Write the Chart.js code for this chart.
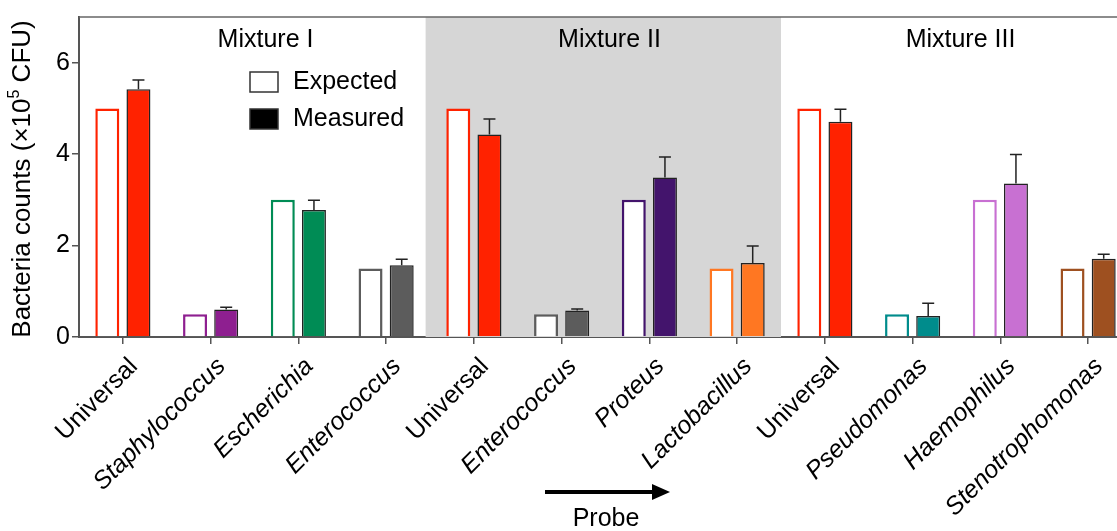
<!DOCTYPE html>
<html>
<head>
<meta charset="utf-8">
<script src="https://cdn.jsdelivr.net/npm/chart.js@4.4.0/dist/chart.umd.min.js"></script>
<style>
  html, body { margin: 0; padding: 0; background: #fff; overflow: hidden; }
  #wrap { width: 1117px; height: 531px; overflow: hidden; }
</style>
</head>
<body>
<div id="wrap"><canvas id="myChart" width="1136" height="531"></canvas></div>
<script>
// data
var probes = ["Universal", "Staphylococcus", "Escherichia", "Enterococcus",
              "Universal", "Enterococcus", "Proteus", "Lactobacillus",
              "Universal", "Pseudomonas", "Haemophilus", "Stenotrophomonas"];
var expected = [5, 0.5, 3, 1.5, 5, 0.5, 3, 1.5, 5, 0.5, 3, 1.5];
var measured = [5.42, 0.6, 2.78, 1.57, 4.43, 0.58, 3.49, 1.62, 4.71, 0.46, 3.36, 1.71];
var measuredErr = [0.2, 0.05, 0.21, 0.13, 0.34, 0.03, 0.45, 0.37, 0.27, 0.28, 0.63, 0.1];
var probeColors = ["#ff2200", "#8e1f90", "#008c55", "#5c5c5c",
                   "#ff2200", "#5c5c5c", "#43146c", "#ff7722",
                   "#ff2200", "#008c8c", "#c870d2", "#9e5020"];
var mixtures = ["Mixture I", "Mixture II", "Mixture III"];
var yTicks = [0, 2, 4, 6];

var FONT = "'Liberation Sans', Arial, sans-serif";

// grey band behind Mixture II, group titles, top border
var backPlugin = {
  id: "back",
  beforeDatasetsDraw: function(chart) {
    var c = chart.ctx, a = chart.chartArea, x = chart.scales.x;
    c.save();
    c.fillStyle = "#d6d6d6";
    var x0 = x.getPixelForValue(3.45), x1 = x.getPixelForValue(7.5);
    c.fillRect(x0, a.top, x1 - x0, a.bottom - a.top);
    c.fillStyle = "#000";
    c.font = "25px " + FONT;
    c.textAlign = "center";
    c.textBaseline = "middle";
    for (var i = 0; i < mixtures.length; i++) {
      var cx = x.getPixelForValue(i * 4 + 1.5);
      c.fillText(mixtures[i], cx + (i == 0 ? 11 : 4), a.top + 23);
    }
    c.strokeStyle = "#666";
    c.lineWidth = 1.5;
    c.beginPath();
    c.moveTo(a.left, a.top);
    c.lineTo(a.right, a.top);
    c.stroke();
    c.restore();
  }
};

// error bars, legend, y title, probe arrow
var frontPlugin = {
  id: "front",
  afterDatasetsDraw: function(chart) {
    var c = chart.ctx, a = chart.chartArea, y = chart.scales.y;
    var meta = chart.getDatasetMeta(1);
    c.save();
    c.strokeStyle = "#222";
    c.lineWidth = 1.5;
    for (var i = 0; i < measured.length; i++) {
      var bar = meta.data[i];
      var yTop = y.getPixelForValue(measured[i] + measuredErr[i]);
      c.beginPath();
      c.moveTo(bar.x, bar.y);
      c.lineTo(bar.x, yTop);
      c.moveTo(bar.x - 6, yTop);
      c.lineTo(bar.x + 6, yTop);
      c.stroke();
    }
    // legend
    c.lineWidth = 1.5;
    c.strokeStyle = "#333";
    c.fillStyle = "#fff";
    c.fillRect(250, 72, 28, 20);
    c.strokeRect(250, 72, 28, 20);
    c.fillStyle = "#000";
    c.fillRect(250, 109, 28, 20);
    c.strokeRect(250, 109, 28, 20);
    c.font = "25px " + FONT;
    c.textBaseline = "middle";
    c.textAlign = "left";
    c.fillText("Expected", 293, 82);
    c.fillText("Measured", 293, 119);
    // y title with superscript
    c.translate(23, (a.top + a.bottom) / 2 + 2);
    c.rotate(-Math.PI / 2);
    var p1 = "Bacteria counts (\u00d710", p2 = "5", p3 = " CFU)";
    c.font = "26px " + FONT;
    var w1 = c.measureText(p1).width, w3 = c.measureText(p3).width;
    c.font = "16px " + FONT;
    var w2 = c.measureText(p2).width;
    var sx = -(w1 + w2 + w3) / 2;
    c.font = "26px " + FONT;
    c.fillText(p1, sx, 0);
    c.font = "16px " + FONT;
    c.fillText(p2, sx + w1, -8);
    c.font = "26px " + FONT;
    c.fillText(p3, sx + w1 + w2, 0);
    c.restore();
    // probe arrow
    c.save();
    c.strokeStyle = "#000";
    c.fillStyle = "#000";
    c.lineWidth = 4;
    c.beginPath();
    c.moveTo(545, 492);
    c.lineTo(655, 492);
    c.stroke();
    c.beginPath();
    c.moveTo(670, 492);
    c.lineTo(652, 484);
    c.lineTo(652, 500);
    c.closePath();
    c.fill();
    c.font = "25px " + FONT;
    c.textAlign = "center";
    c.textBaseline = "middle";
    c.fillText("Probe", 606, 519);
    c.restore();
  }
};

var ctx = document.getElementById("myChart").getContext("2d");
var chart = new Chart(ctx, {
  type: "bar",
  data: {
    labels: probes,
    datasets: [{
      label: "Expected",
      data: expected,
      backgroundColor: "#fff",
      borderColor: probeColors,
      borderWidth: 2.5,
      borderSkipped: "start"
    }, {
      label: "Measured",
      data: measured,
      backgroundColor: probeColors,
      borderColor: "#222",
      borderWidth: 1.5,
      borderSkipped: "start"
    }]
  },
  options: {
    responsive: false,
    animation: false,
    devicePixelRatio: 1,
    categoryPercentage: 0.71,
    barPercentage: 0.77,
    layout: { padding: { top: 15, right: 4, left: 0, bottom: 0 } },
    plugins: { legend: { display: false }, tooltip: { enabled: false } },
    scales: {
      x: {
        grid: { display: true, drawOnChartArea: false, offset: false, tickLength: 7, color: "#555", lineWidth: 1.5 },
        border: { display: true, color: "#555", width: 2 },
        ticks: {
          color: "#000",
          maxRotation: 45,
          minRotation: 45,
          padding: 8,
          labelOffset: 11,
          autoSkip: false,
          font: function(c) {
            var lab = probes[c.index];
            return { family: FONT, size: 25, style: lab === "Universal" ? "normal" : "italic" };
          }
        },
        afterFit: function(s) { s.height = 531 - 337; }
      },
      y: {
        min: 0,
        max: 7,
        afterBuildTicks: function(s) { s.ticks = yTicks.map(function(v) { return { value: v }; }); },
        grid: { display: true, drawOnChartArea: false, tickLength: 7, color: "#555", lineWidth: 1.5 },
        border: { display: true, color: "#555", width: 2 },
        ticks: { color: "#000", padding: 2, font: { family: FONT, size: 25 } },
        afterFit: function(s) { s.width = 79; }
      }
    }
  },
  plugins: [backPlugin, frontPlugin]
});
</script>
</body>
</html>
